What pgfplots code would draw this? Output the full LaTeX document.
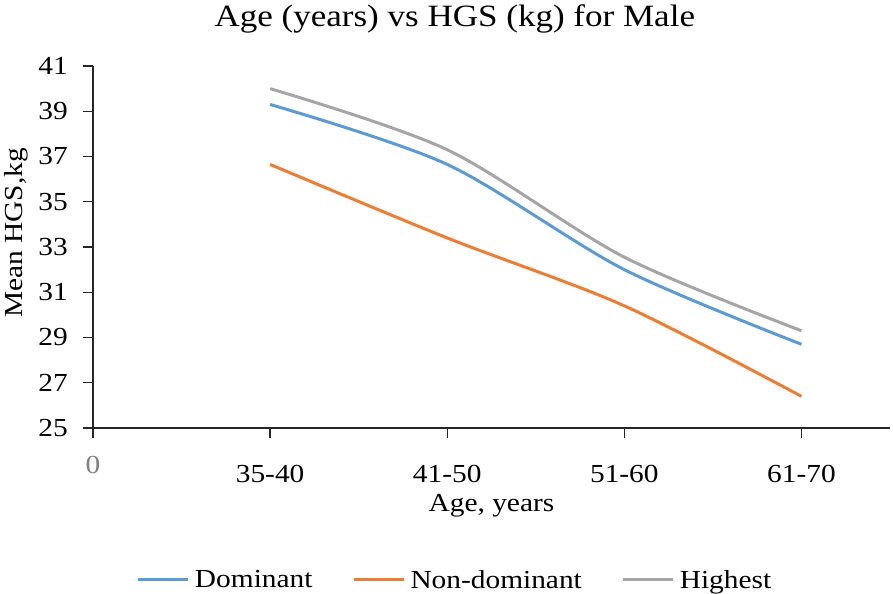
\documentclass[border=0pt]{standalone}
\usepackage{pgfplots}
\pgfplotsset{compat=1.18}
\usepackage{fontspec}
\setmainfont{Liberation Serif}[FakeStretch=1.13]
\definecolor{cBlue}{HTML}{5B9BD5}
\definecolor{cOrange}{HTML}{ED7D31}
\definecolor{cGray}{HTML}{A5A5A5}
\newcommand{\fs}{\fontsize{26bp}{31bp}\selectfont}
\begin{document}
\begin{tikzpicture}
\begin{axis}[
  name=ax,
  at={(0,0)}, anchor=south west,
  scale only axis,
  width=797bp, height=362bp,
  xmin=0, xmax=4.5,
  ymin=25, ymax=41,
  axis lines=left,
  axis line style={-, line width=1.5bp, black!85},
  xtick={0,1,2,3,4},
  xticklabels={\raisebox{9bp}{\textcolor{gray}{0}},35-40,41-50,51-60,61-70},
  ytick={25,27,...,41},
  tick align=outside,
  tick style={black!85, line width=1.3bp},
  major tick length=10bp,
  /pgf/number format/assume math mode=true,
  tick label style={font=\fs, inner sep=0pt},
  xticklabel style={anchor=base, yshift=-44bp},
  yticklabel style={anchor=east, xshift=-15bp},
  xlabel={Age, years},
  ylabel={Mean HGS,kg},
  label style={font=\fs, inner sep=0pt},
  xlabel style={at={(axis description cs:0.5,0)}, anchor=base, yshift=-83bp},
  ylabel style={at={([xshift=-70bp]axis description cs:0,0.539)}, anchor=base},
  title={Age (years) vs HGS (kg) for Male},
  title style={font=\fontsize{31bp}{37bp}\selectfont, inner sep=0pt, at={(axis description cs:0.454,1)}, anchor=base, yshift=34bp},
  legend columns=3,
  legend style={at={(axis description cs:0.0552,0)}, anchor=north west, yshift=-142bp,
    draw=none, font=\fs, inner sep=0pt, outer sep=0pt,
    nodes={inner sep=0pt},
    /tikz/every odd column/.append style={column sep=5bp},
    /tikz/every even column/.append style={column sep=40bp}},
  legend image code/.code={\draw[#1, line width=3bp] (0bp,0bp) -- (50bp,0bp);},
  every axis plot/.append style={line width=3bp, smooth, tension=0.5, no markers},
  clip=false,
]
\addplot[cBlue] coordinates {(1,39.3) (2,36.65) (3,32.0) (4,28.7)};
\addlegendentry{Dominant}
\addplot[cOrange] coordinates {(1,36.65) (2,33.4) (3,30.4) (4,26.4)};
\addlegendentry{Non-dominant}
\addplot[cGray] coordinates {(1,40.0) (2,37.3) (3,32.55) (4,29.3)};
\addlegendentry{Highest}
\end{axis}
\pgfresetboundingbox
\path[use as bounding box] ([shift={(-93bp,-166bp)}]ax.south west) rectangle ([shift={(800bp,428bp)}]ax.south west);
\end{tikzpicture}
\end{document}
